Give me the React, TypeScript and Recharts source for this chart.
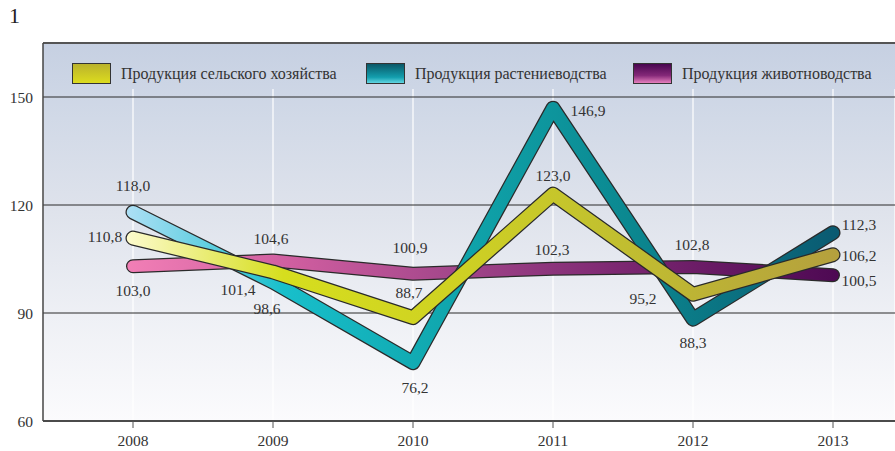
import { CartesianGrid, Line, LineChart, ReferenceLine, XAxis, YAxis } from "recharts";

const years = ["2008", "2009", "2010", "2011", "2012", "2013"];
const selskoe = [110.8, 101.4, 88.7, 123.0, 95.2, 106.2];
const rasten = [118.0, 98.6, 76.2, 146.9, 88.3, 112.3];
const zhivot = [103.0, 104.6, 100.9, 102.3, 102.8, 100.5];
const yTicks = [60, 90, 120, 150];

const data = years.map((year, i) => ({
  year,
  selskoe: selskoe[i],
  rasten: rasten[i],
  zhivot: zhivot[i]
}));

const FONT = "'Liberation Serif', 'DejaVu Serif', serif";

// label offsets from the point, [dx, dy]
const selskoeLabelPos = [[-28, -2], [-35, 18], [-4, -25], [0, -19], [-50, 4], [26, 1]];
const rastenLabelPos = [[0, -27], [-6, 26], [2, 25], [35, 2], [0, 23], [26, -8]];
const zhivotLabelPos = [[0, 24], [-2, -22], [-3, -26], [-1, -19], [-1, -22], [26, 5]];

const fmt = (v: number) => v.toFixed(1).replace(".", ",");

const makeLabel = (pos: number[][]) => (props: any) => {
  const { x, y, index, value } = props;
  const [dx, dy] = pos[index] || [0, -20];
  return (
    <text
      key={`l-${index}`}
      x={x + dx}
      y={y + dy}
      textAnchor="middle"
      dominantBaseline="central"
      fontSize={15.5}
      fontFamily={FONT}
      fill="#333"
    >
      {fmt(value)}
    </text>
  );
};

const legendItems = [
  { name: "Продукция сельского хозяйства", left: 72, bg: "linear-gradient(#bab22c, #dcdc1e)" },
  { name: "Продукция растениеводства", left: 366, bg: "linear-gradient(#0a5767, #139fae 70%, #62d5e2)" },
  { name: "Продукция животноводства", left: 633, bg: "linear-gradient(#480650, #842878 60%, #e67fbe)" }
];

function LegendBox() {
  return (
    <div style={{ position: "absolute", left: 0, top: 63, width: 895, height: 21, pointerEvents: "none" }}>
      {legendItems.map((it) => (
        <div
          key={it.name}
          style={{ position: "absolute", left: it.left, top: 0, display: "flex", alignItems: "center", height: 21 }}
        >
          <div
            style={{
              width: 37,
              height: 19,
              background: it.bg,
              border: "1px solid #333",
              marginRight: 10
            }}
          />
          <span style={{ fontSize: 16, color: "#333", whiteSpace: "nowrap", fontFamily: FONT }}>{it.name}</span>
        </div>
      ))}
    </div>
  );
}

export default function App() {
  return (
    <div
      style={{
        position: "absolute",
        left: 0,
        top: 0,
        width: 895,
        height: 451,
        fontFamily: FONT,
        background: "#fff"
      }}
    >
      <div style={{ position: "absolute", left: 9, top: 3, fontSize: 22, color: "#222", fontFamily: FONT }}>1</div>
      <LineChart width={895} height={451} data={data} margin={{ top: 43, right: 0, bottom: 0, left: 0 }}>
        <defs>
          <linearGradient id="bg" x1="0" y1="0" x2="0" y2="1">
            <stop offset="0%" stopColor="#c6d0e2" />
            <stop offset="20%" stopColor="#d1d9e7" />
            <stop offset="45%" stopColor="#dfe3ec" />
            <stop offset="72%" stopColor="#eef0f5" />
            <stop offset="100%" stopColor="#fbfbfd" />
          </linearGradient>
          <linearGradient id="gSel" gradientUnits="userSpaceOnUse" x1="125" y1="0" x2="845" y2="0">
            <stop offset="0%" stopColor="#fdfbcf" />
            <stop offset="22%" stopColor="#d6de1e" />
            <stop offset="45%" stopColor="#cfd222" />
            <stop offset="65%" stopColor="#c3c22e" />
            <stop offset="100%" stopColor="#b49f3e" />
          </linearGradient>
          <linearGradient id="gRas" gradientUnits="userSpaceOnUse" x1="125" y1="0" x2="845" y2="0">
            <stop offset="0%" stopColor="#afe0f6" />
            <stop offset="22%" stopColor="#18bfcb" />
            <stop offset="45%" stopColor="#10a6ad" />
            <stop offset="70%" stopColor="#0b8890" />
            <stop offset="100%" stopColor="#0a5870" />
          </linearGradient>
          <linearGradient id="gZhi" gradientUnits="userSpaceOnUse" x1="125" y1="0" x2="845" y2="0">
            <stop offset="0%" stopColor="#f27fb6" />
            <stop offset="25%" stopColor="#cc5c9e" />
            <stop offset="45%" stopColor="#a4478b" />
            <stop offset="70%" stopColor="#7a2670" />
            <stop offset="100%" stopColor="#4c0852" />
          </linearGradient>
        </defs>
        <CartesianGrid fill="url(#bg)" horizontal={false} vertical={false} />
        <CartesianGrid horizontal={false} stroke="#ffffff" strokeWidth={1.2} y={89} height={332} />
        <CartesianGrid vertical={false} stroke="#2a2a2a" strokeWidth={1} />
        <ReferenceLine y={165} stroke="#555" strokeWidth={2} />
        <XAxis
          dataKey="year"
          scale="point"
          padding={{ left: 90, right: 62 }}
          height={30}
          axisLine={{ stroke: "#333", strokeWidth: 1.5 }}
          tickLine={{ stroke: "#555" }}
          tickSize={7}
          tickMargin={7}
          tick={{ fontSize: 15.5, fill: "#333", fontFamily: FONT }}
        />
        <YAxis
          domain={[60, 165]}
          ticks={yTicks}
          width={43}
          axisLine={{ stroke: "#444", strokeWidth: 1.5 }}
          tickLine={false}
          tickSize={0}
          tickMargin={10}
          tick={{ fontSize: 15.5, fill: "#333", fontFamily: FONT }}
          allowDataOverflow
        />
        <Line dataKey="zhivot" type="linear" stroke="#2a2a2a" strokeWidth={14} strokeLinecap="round" strokeLinejoin="round" dot={false} isAnimationActive={false} />
        <Line dataKey="zhivot" type="linear" stroke="url(#gZhi)" strokeWidth={11.5} strokeLinecap="round" strokeLinejoin="round" dot={false} isAnimationActive={false} label={makeLabel(zhivotLabelPos)} />
        <Line dataKey="rasten" type="linear" stroke="#2a2a2a" strokeWidth={15} strokeLinecap="round" strokeLinejoin="round" dot={false} isAnimationActive={false} />
        <Line dataKey="rasten" type="linear" stroke="url(#gRas)" strokeWidth={12.5} strokeLinecap="round" strokeLinejoin="round" dot={false} isAnimationActive={false} label={makeLabel(rastenLabelPos)} />
        <Line dataKey="selskoe" type="linear" stroke="#2a2a2a" strokeWidth={15} strokeLinecap="round" strokeLinejoin="round" dot={false} isAnimationActive={false} />
        <Line dataKey="selskoe" type="linear" stroke="url(#gSel)" strokeWidth={12.5} strokeLinecap="round" strokeLinejoin="round" dot={false} isAnimationActive={false} label={makeLabel(selskoeLabelPos)} />
      </LineChart>
      <LegendBox />
    </div>
  );
}
